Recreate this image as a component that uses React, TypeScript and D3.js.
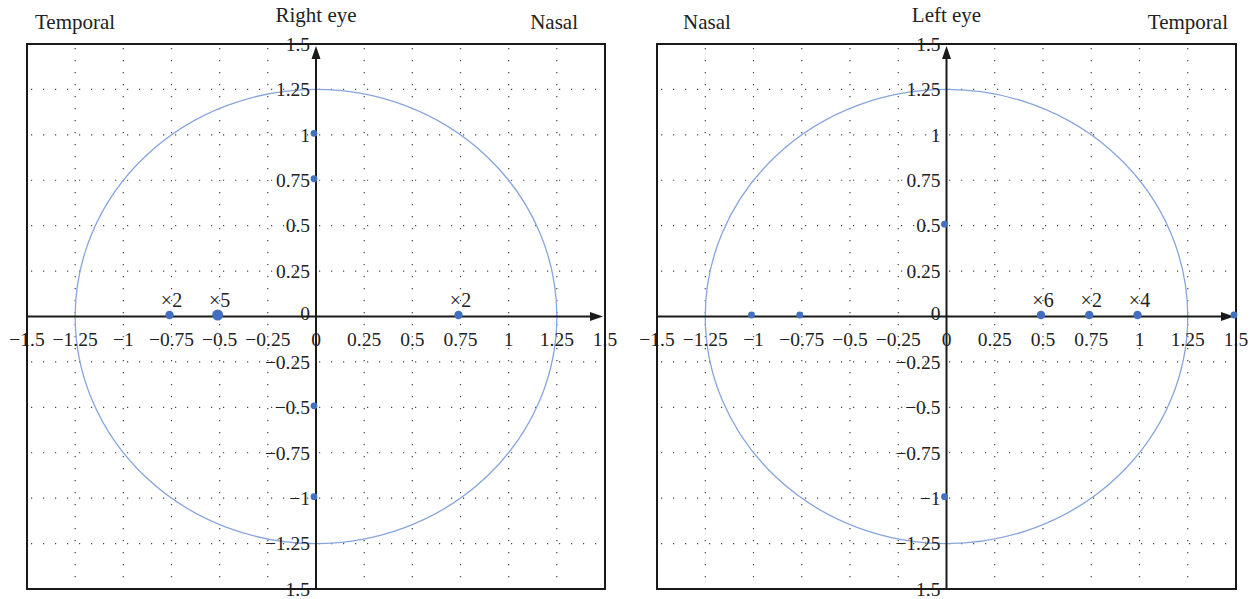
import React from "react";
import * as d3 from "d3";

const tickValues = [-1.5, -1.25, -1, -0.75, -0.5, -0.25, 0, 0.25, 0.5, 0.75, 1, 1.25, 1.5];
const tickLabels = ["−1.5", "−1.25", "−1", "−0.75", "−0.5", "−0.25", "0", "0.25", "0.5", "0.75", "1", "1.25", "1.5"];
const circleRadius = 1.25;

const rightEyeX = [0, 0, 0, 0, -0.75, -0.5, 0.75];
const rightEyeY = [1, 0.75, -0.5, -1, 0, 0, 0];
const rightEyeCount = [1, 1, 1, 1, 2, 5, 2];

const leftEyeX = [0, 0, -1, -0.75, 0.5, 0.75, 1, 1.5];
const leftEyeY = [0.5, -1, 0, 0, 0, 0, 0, 0];
const leftEyeCount = [1, 1, 1, 1, 6, 2, 4, 1];

const FONT = "'Liberation Serif', 'DejaVu Serif', serif";
const POINT = "#4270c0";
const RING = "#86a5dd";

type PanelProps = {
  x0: number;
  x1: number;
  title: string;
  leftLabel: string;
  rightLabel: string;
  leftInset: number;
  rightInset: number;
  xs: number[];
  ys: number[];
  counts: number[];
  big: number;
};

function Panel({ x0, x1, title, leftLabel, rightLabel, leftInset, rightInset, xs, ys, counts, big }: PanelProps) {
  const x = d3.scaleLinear().domain([-1.5, 1.5]).range([x0, x1]);
  const y = d3.scaleLinear().domain([-1.5, 1.5]).range([589, 44]);
  const grid = tickValues.filter((t) => t !== 0 && Math.abs(t) !== 1.5);
  const cx = x(0);
  const cy = y(0);
  const rr = (c: number) => (c >= big ? 5.5 : c > 1 ? 4.2 : 3.4);
  return (
    <g>
      {/* grid */}
      {grid.map((t) => (
        <line key={"v" + t} x1={x(t)} x2={x(t)} y1={y(1.5)} y2={y(-1.5)} stroke="#444" strokeWidth={1.2} strokeDasharray="1.2 10.8" strokeDashoffset={-4} />
      ))}
      {grid.map((t) => (
        <line key={"h" + t} x1={x(-1.5)} x2={x(1.5)} y1={y(t)} y2={y(t)} stroke="#444" strokeWidth={1.2} strokeDasharray="1.2 10.8" strokeDashoffset={-4} />
      ))}
      {/* circle */}
      <ellipse cx={cx} cy={cy} rx={x(circleRadius) - cx} ry={cy - y(circleRadius)} fill="none" stroke={RING} strokeWidth={1.3} />
      {/* tick labels */}
      {tickValues.map((t, i) => (
        <text key={"xl" + t} x={x(t)} y={cy + 29} textAnchor="middle" fontSize={19.5} fontFamily={FONT} fill="#222">
          {tickLabels[i]}
        </text>
      ))}
      {tickValues.map((t, i) => (
        <text key={"yl" + t} x={cx - 6} y={y(t) + (t === 0 ? -3 : 0)} dy="0.35em" textAnchor="end" fontSize={19.5} fontFamily={FONT} fill="#222">
          {tickLabels[i]}
        </text>
      ))}
      {/* frame */}
      <rect x={x(-1.5)} y={y(1.5)} width={x(1.5) - x(-1.5)} height={y(-1.5) - y(1.5)} fill="none" stroke="#1a1a1a" strokeWidth={2} />
      {/* axes */}
      <line x1={x(-1.5)} x2={x(1.5) - 6} y1={cy} y2={cy} stroke="#1a1a1a" strokeWidth={2} />
      <path d={`M${x(1.5) - 2},${cy} L${x(1.5) - 15},${cy - 4.5} L${x(1.5) - 15},${cy + 4.5} Z`} fill="#1a1a1a" />
      <line x1={cx} x2={cx} y1={y(-1.5)} y2={y(1.5) + 6} stroke="#1a1a1a" strokeWidth={2} />
      <path d={`M${cx},${y(1.5) + 2} L${cx - 4.5},${y(1.5) + 15} L${cx + 4.5},${y(1.5) + 15} Z`} fill="#1a1a1a" />
      {/* points */}
      <g transform="translate(-2,-1.5)">
        {xs.map((v, i) => (
          <circle key={"p" + i} cx={x(v)} cy={y(ys[i])} r={rr(counts[i])} fill={POINT} />
        ))}
      </g>
      {xs.map((v, i) =>
        counts[i] > 1 ? (
          <text key={"c" + i} x={x(v)} y={y(ys[i]) - 10} textAnchor="middle" fontSize={20} fontFamily={FONT} fill="#222">
            {"×" + counts[i]}
          </text>
        ) : null
      )}
      {/* titles */}
      <text x={cx} y={22} textAnchor="middle" fontSize={21} fontFamily={FONT} fill="#222">{title}</text>
      <text x={x(-1.5) + leftInset} y={29} textAnchor="start" fontSize={21} fontFamily={FONT} fill="#222">{leftLabel}</text>
      <text x={x(1.5) - rightInset} y={29} textAnchor="end" fontSize={21} fontFamily={FONT} fill="#222">{rightLabel}</text>
    </g>
  );
}

export default function App() {
  return (
    <svg width={1258} height={599} style={{ position: "absolute", left: 0, top: 0, background: "#fff" }}>
      <Panel x0={27} x1={605} title="Right eye" leftLabel="Temporal" rightLabel="Nasal" leftInset={8} rightInset={27} xs={rightEyeX} ys={rightEyeY} counts={rightEyeCount} big={5} />
      <Panel x0={657} x1={1236} title="Left eye" leftLabel="Nasal" rightLabel="Temporal" leftInset={26} rightInset={8} xs={leftEyeX} ys={leftEyeY} counts={leftEyeCount} big={7} />
    </svg>
  );
}
